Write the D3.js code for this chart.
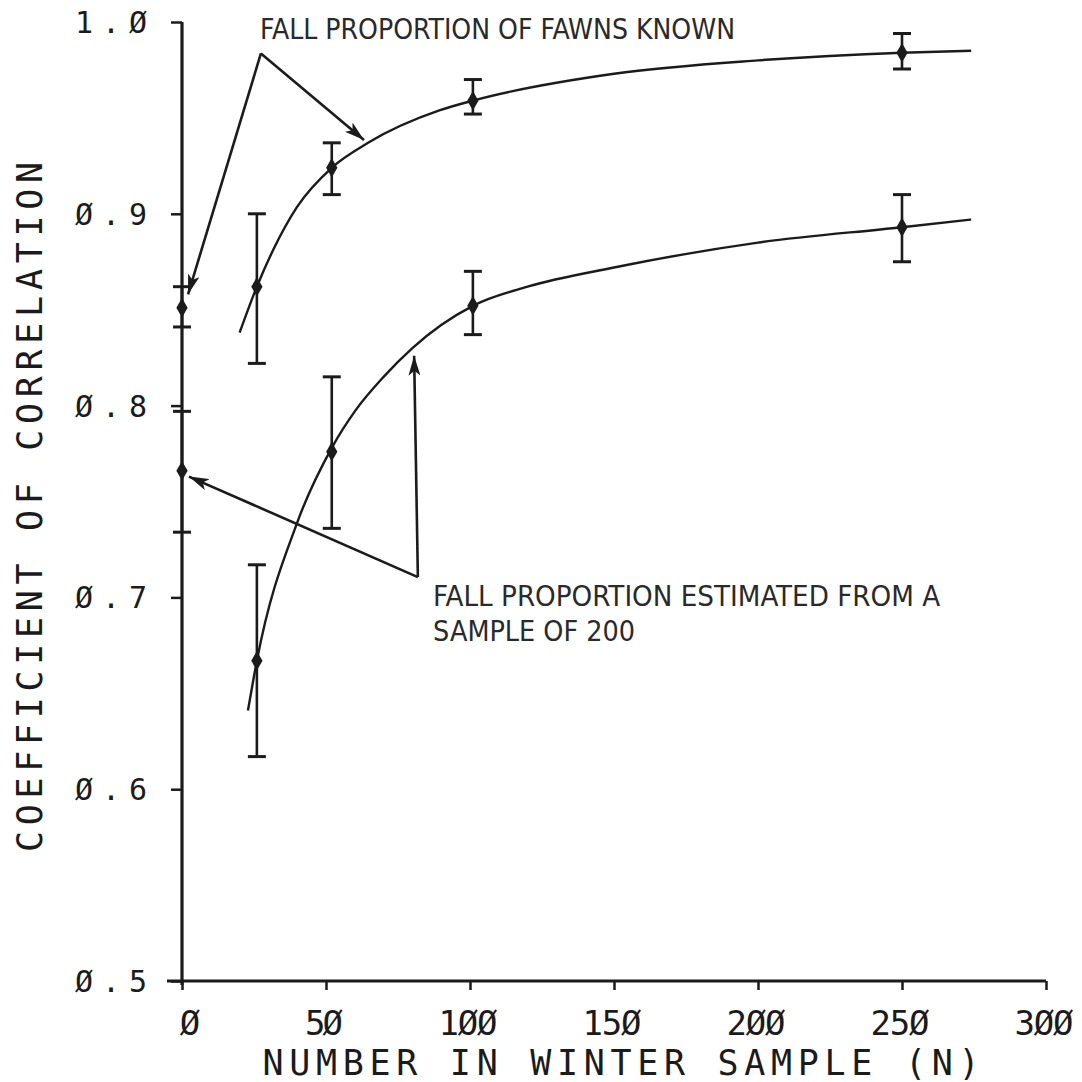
<!DOCTYPE html>
<html>
<head>
<meta charset="utf-8">
<script src="https://cdn.jsdelivr.net/npm/d3@7"></script>
<style>
  html, body { margin: 0; padding: 0; background: #fff; }
  svg { display: block; }
</style>
</head>
<body>
<svg id="chart" width="1082" height="1082"></svg>
<script>
// ---- data ----
const sampleN = [0, 26, 52, 101, 250];

// Fall proportion of fawns known
const knownMean = [0.851, 0.862, 0.924, 0.959, 0.984];
const knownLow  = [0.841, 0.822, 0.910, 0.952, 0.9755];
const knownHigh = [0.862, 0.900, 0.937, 0.970, 0.994];

// Fall proportion estimated from a sample of 200
const estMean = [0.766, 0.667, 0.776, 0.852, 0.893];
const estLow  = [0.734, 0.617, 0.736, 0.837, 0.875];
const estHigh = [0.797, 0.717, 0.815, 0.870, 0.910];

// fitted curves
const knownCurveN = [20, 26, 31.6, 39.9, 52, 64.6, 89.6, 101, 150, 200, 250, 274];
const knownCurveR = [0.838, 0.862, 0.881, 0.9035, 0.924, 0.937, 0.954, 0.959, 0.973, 0.980, 0.984, 0.985];
const estCurveN = [22.9, 26, 40, 52, 60, 70, 80, 90, 101, 120, 150, 200, 250, 274];
const estCurveR = [0.641, 0.667, 0.739, 0.778, 0.797, 0.815, 0.830, 0.842, 0.852, 0.862, 0.872, 0.885, 0.893, 0.897];

const xTicks = [0, 50, 100, 150, 200, 250, 300];
const xTickLabels = ["Ø", "5Ø", "1ØØ", "15Ø", "2ØØ", "25Ø", "3ØØ"];
const yTicks = [0.5, 0.6, 0.7, 0.8, 0.9, 1.0];
const yTickLabels = ["Ø.5", "Ø.6", "Ø.7", "Ø.8", "Ø.9", "1.Ø"];

const xTitle = "NUMBER IN WINTER SAMPLE (N)";
const yTitle = "COEFFICIENT OF CORRELATION";

// annotations (anchors in data units)
const note1Lines = ["FALL PROPORTION OF FAWNS KNOWN"];
const note1Anchor = [27.1, 0.9911];
const note1Vertex = [27.4, 0.9836];
const note1Tips = [[2.1, 0.858], [63.2, 0.9385]];

const note2Lines = ["FALL PROPORTION ESTIMATED FROM A", "SAMPLE OF 200"];
const note2Anchor = [87.2, 0.6955];
const note2Vertex = [81.9, 0.7106];
const note2Tips = [[2.4, 0.763], [80.6, 0.826]];

// ---- drawing ----
const svg = d3.select("#chart");
const ink = "#1b1b1b";

const x = d3.scaleLinear().domain([0, 300]).range([182, 1046]);
const y = d3.scaleLinear().domain([0.5, 1.0]).range([981, 22]);

svg.append("rect").attr("width", 1082).attr("height", 1082).attr("fill", "#fff");

const defs = svg.append("defs");
defs.append("marker")
  .attr("id", "arrow")
  .attr("viewBox", "0 0 20 12")
  .attr("refX", 20).attr("refY", 6)
  .attr("markerWidth", 20).attr("markerHeight", 12)
  .attr("markerUnits", "userSpaceOnUse")
  .attr("orient", "auto")
  .append("path")
  .attr("d", "M0,0 L20,6 L0,12 L5,6 Z")
  .attr("fill", ink);

// axes
const yAxis = d3.axisLeft(y).tickValues(yTicks).tickSize(11).tickSizeOuter(0).tickFormat("");
const gy = svg.append("g").attr("transform", `translate(${x(0)},0)`).call(yAxis);
gy.select(".domain").remove();
gy.selectAll(".tick line").attr("stroke", ink).attr("stroke-width", 2.5);

const xAxis = d3.axisBottom(x).tickValues(xTicks).tickSize(9).tickSizeOuter(0).tickFormat("");
const gx = svg.append("g").attr("transform", `translate(0,${y(0.5)})`).call(xAxis);
gx.select(".domain").remove();
gx.selectAll(".tick line").attr("stroke", ink).attr("stroke-width", 2.5);

svg.append("line")
  .attr("x1", x(0)).attr("x2", x(0))
  .attr("y1", y(1.0)).attr("y2", y(0.5) + 4)
  .attr("stroke", ink).attr("stroke-width", 3.2);
svg.append("line")
  .attr("x1", x(0) - 15).attr("x2", x(300))
  .attr("y1", y(0.5)).attr("y2", y(0.5))
  .attr("stroke", ink).attr("stroke-width", 3);

// tick labels
const monoFont = "'DejaVu Sans Mono', 'Liberation Mono', monospace";
svg.append("g").selectAll("text")
  .data(yTicks)
  .join("text")
  .attr("x", x(0) - 35)
  .attr("y", d => y(d) + 11)
  .attr("text-anchor", "end")
  .attr("font-family", monoFont)
  .attr("font-size", 30)
  .attr("fill", ink)
  .attr("textLength", 72)
  .attr("lengthAdjust", "spacing")
  .text((d, i) => yTickLabels[i]);

svg.append("g").selectAll("text")
  .data(xTicks)
  .join("text")
  .attr("x", (d, i) => x(d) + (i === 0 ? 8 : -2))
  .attr("y", y(0.5) + 54)
  .attr("text-anchor", "middle")
  .attr("font-family", monoFont)
  .attr("font-size", 34)
  .attr("fill", ink)
  .attr("textLength", (d, i) => xTickLabels[i].length * 21 - 4)
  .attr("lengthAdjust", "spacing")
  .text((d, i) => xTickLabels[i]);

// axis titles
svg.append("text")
  .attr("x", 621).attr("y", 1075)
  .attr("text-anchor", "middle")
  .attr("font-family", monoFont)
  .attr("font-size", 35)
  .attr("fill", ink)
  .attr("textLength", 717)
  .attr("lengthAdjust", "spacing")
  .text(xTitle);

svg.append("text")
  .attr("transform", "translate(42,507) rotate(-90)")
  .attr("text-anchor", "middle")
  .attr("font-family", monoFont)
  .attr("font-size", 35)
  .attr("fill", ink)
  .attr("textLength", 690)
  .attr("lengthAdjust", "spacing")
  .text(yTitle);

// curves
const line = d3.line().x(d => x(d[0])).y(d => y(d[1])).curve(d3.curveMonotoneX);
svg.append("path")
  .attr("d", line(knownCurveN.map((n, i) => [n, knownCurveR[i]])))
  .attr("fill", "none").attr("stroke", ink).attr("stroke-width", 2.4);
svg.append("path")
  .attr("d", line(estCurveN.map((n, i) => [n, estCurveR[i]])))
  .attr("fill", "none").attr("stroke", ink).attr("stroke-width", 2.4);

// error bars + markers
function drawSeries(mean, low, high) {
  const g = svg.append("g");
  const cap = 9;
  sampleN.forEach((n, i) => {
    const cx = x(n);
    g.append("line").attr("x1", cx).attr("x2", cx)
      .attr("y1", y(low[i])).attr("y2", y(high[i]))
      .attr("stroke", ink).attr("stroke-width", 2.6);
    [low[i], high[i]].forEach(v => {
      g.append("line").attr("x1", cx - cap).attr("x2", cx + cap)
        .attr("y1", y(v)).attr("y2", y(v))
        .attr("stroke", ink).attr("stroke-width", 3);
    });
  });
  g.selectAll("path.pt")
    .data(sampleN)
    .join("path")
    .attr("class", "pt")
    .attr("transform", (n, i) => `translate(${x(n)},${y(mean[i])})`)
    .attr("d", d3.symbol().type(d3.symbolDiamond).size(110))
    .attr("fill", ink);
}
drawSeries(knownMean, knownLow, knownHigh);
drawSeries(estMean, estLow, estHigh);

// annotations
const noteFont = "'Liberation Sans Narrow', 'DejaVu Sans Condensed', 'Roboto Condensed', sans-serif";
function drawNote(lines, anchor, vertex, tips, widths, lineGap) {
  const g = svg.append("g");
  lines.forEach((t, i) => {
    g.append("text")
      .attr("x", x(anchor[0]))
      .attr("y", y(anchor[1]) + i * lineGap)
      .attr("font-family", noteFont)
      .attr("font-size", 28)
      .attr("fill", "#2a2a2a")
      .attr("textLength", widths[i])
      .attr("lengthAdjust", "spacingAndGlyphs")
      .text(t);
  });
  tips.forEach(tp => {
    g.append("line")
      .attr("x1", x(vertex[0])).attr("y1", y(vertex[1]))
      .attr("x2", x(tp[0])).attr("y2", y(tp[1]))
      .attr("stroke", ink).attr("stroke-width", 2.6)
      .attr("marker-end", "url(#arrow)");
  });
}
drawNote(note1Lines, note1Anchor, note1Vertex, note1Tips, [475], 0);
drawNote(note2Lines, note2Anchor, note2Vertex, note2Tips, [507, 202], 35);
</script>
</body>
</html>
